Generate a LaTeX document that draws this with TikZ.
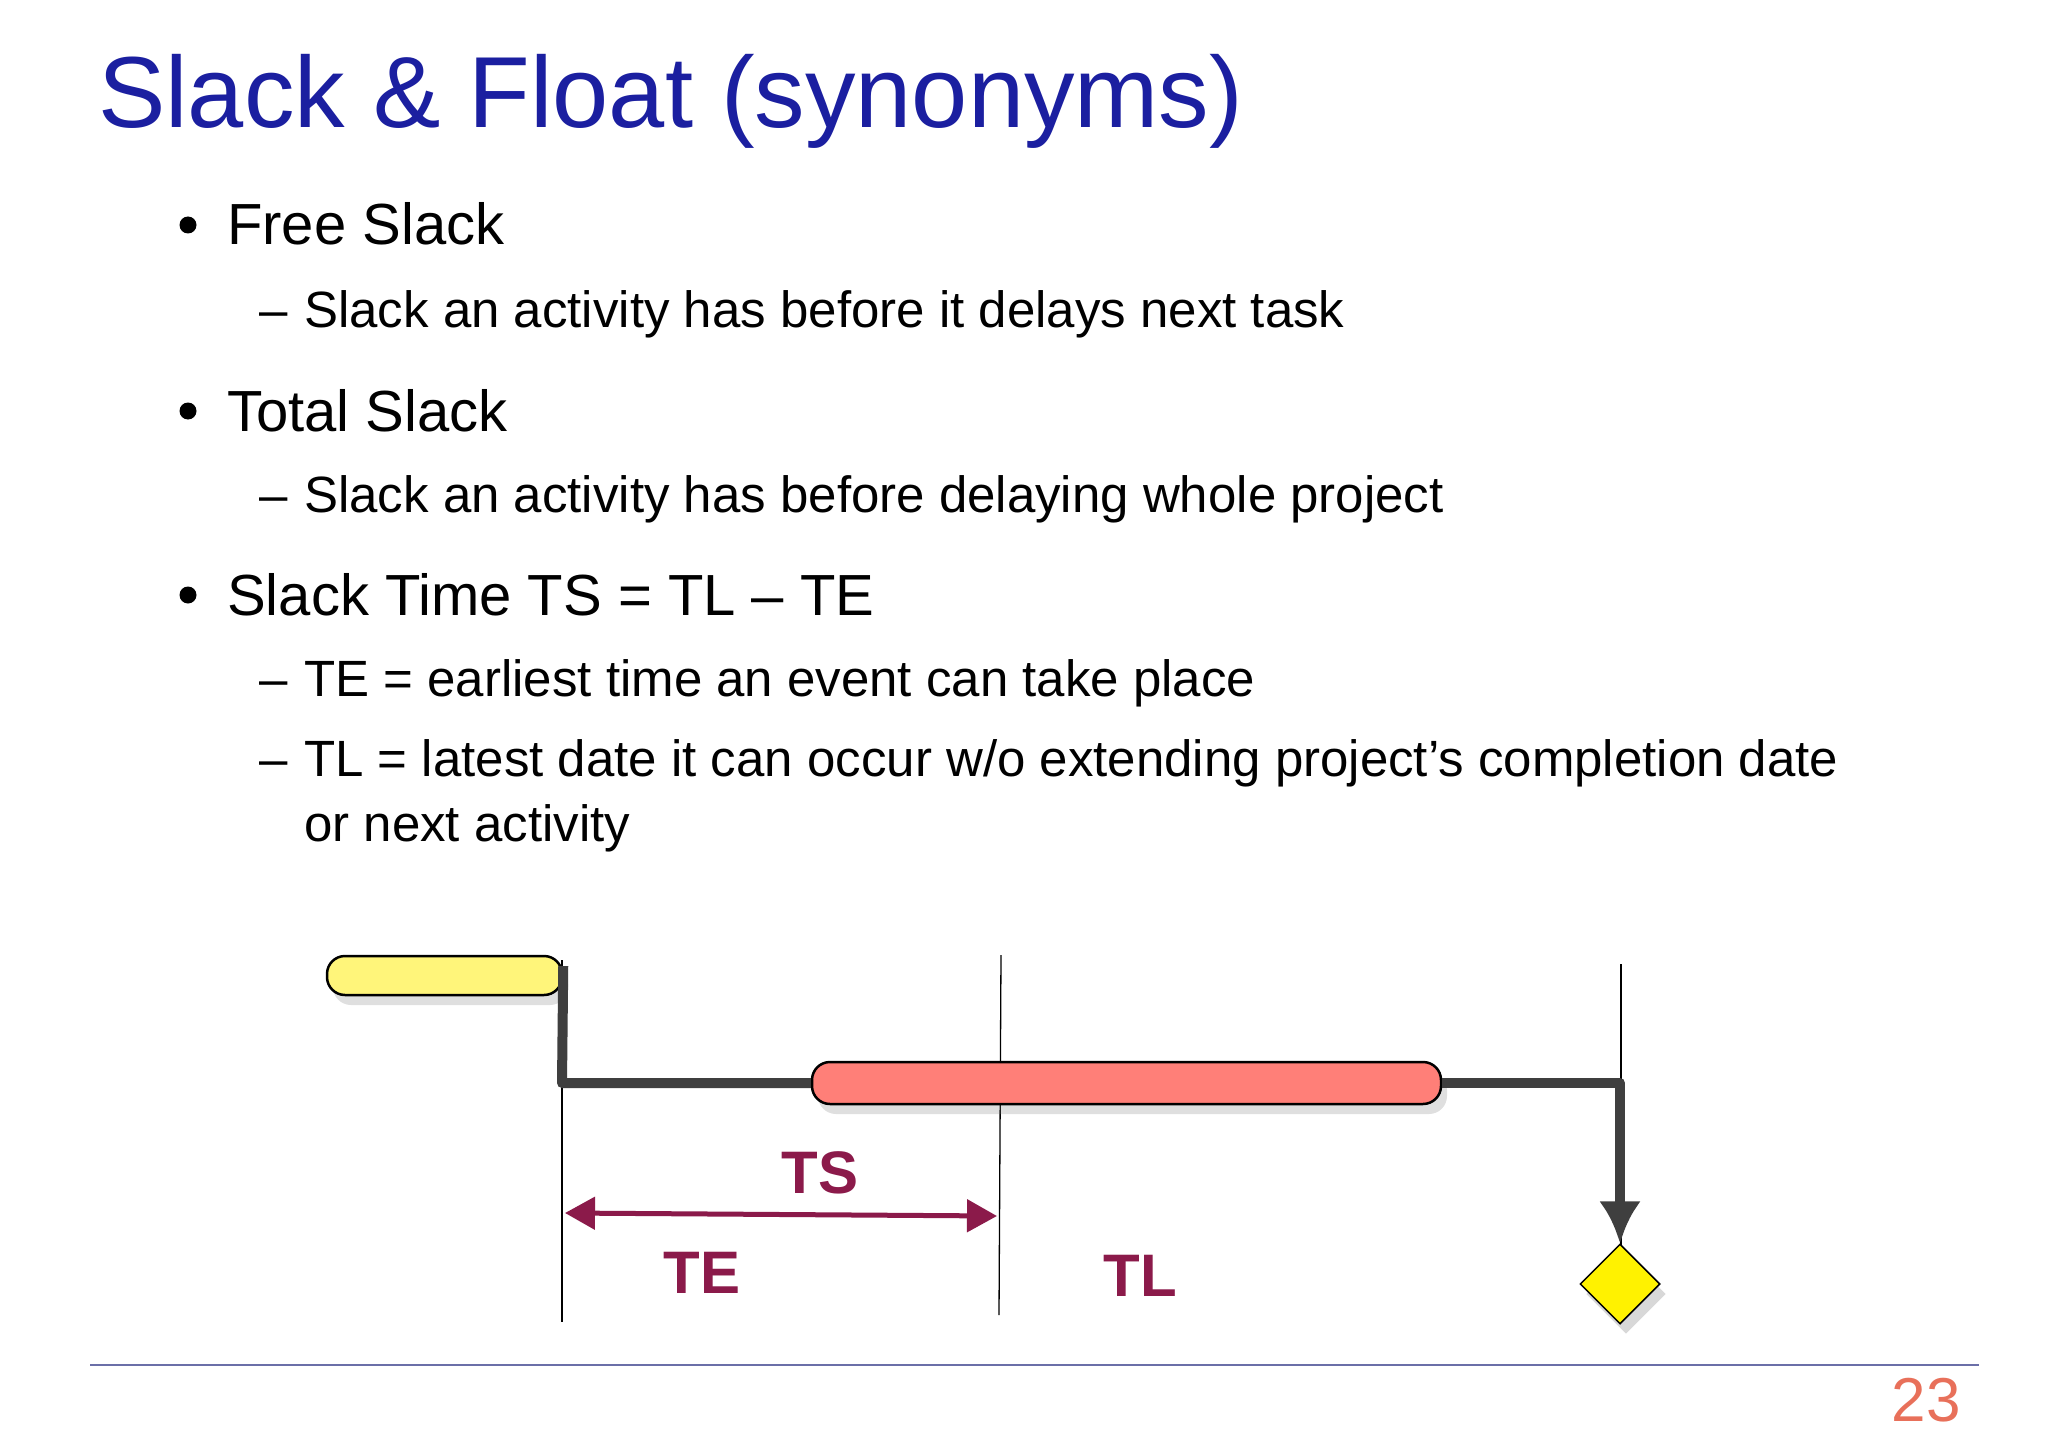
\documentclass[tikz,border=0pt]{standalone}
\usepackage{fontspec}
\setmainfont{Liberation Sans}
\usetikzlibrary{shapes.geometric,shadows,arrows.meta}
\definecolor{titleblue}{HTML}{1B1FA0}
\definecolor{plum}{HTML}{8B1A4A}
\definecolor{barred}{HTML}{FF7F78}
\definecolor{baryel}{HTML}{FFF57A}
\definecolor{rulecol}{HTML}{6B6FA8}
\definecolor{numcol}{HTML}{E8705A}
\definecolor{conn}{HTML}{3F3F3F}
\tikzset{
  txt/.style={anchor=base west,inner sep=0pt},
  big/.style={txt,font=\fontsize{58}{70}\selectfont},
  small/.style={txt,font=\fontsize{51}{60}\selectfont},
  bar/.style={draw=black,line width=2.5pt,rounded corners=18pt,drop shadow={shadow xshift=6pt,shadow yshift=-10pt,opacity=.25}},
  thin/.style={line width=1.3pt},
  lbl/.style={text=plum,font=\fontsize{60}{60}\selectfont\bfseries,inner sep=0pt},
  link/.style={conn,line width=10pt}
}
\begin{document}
\begin{tikzpicture}[x=1pt,y=-1pt]
\useasboundingbox[fill=white] (0,0) rectangle (2048,1447);
\node[txt,text=titleblue,font=\fontsize{101}{101}\selectfont] (title) at (98,128) {Slack \& Float (synonyms)};
\foreach \n/\y/\t in {b1/245/{Free Slack},b2/431/{Total Slack},b3/615/{Slack Time TS = TL – TE}}{
  \node[circle,fill=black,inner sep=0pt,minimum size=17pt] at (188,\y-20) {};
  \node[big] (\n) at (227,\y) {\t};}
\foreach \n/\y/\t in {s1/327/{Slack an activity has before it delays next task},s2/512/{Slack an activity has before delaying whole project},s3/696/{TE = earliest time an event can take place},s4/776/{TL = latest date it can occur w/o extending project’s completion date}}{
  \node[small] at (259,\y) {–};
  \node[small] (\n) at (304,\y) {\t};}
\node[small] (s5) at (304,841) {or next activity};
% diagram
\coordinate (v1t) at (562,960); \coordinate (v1b) at (562,1322);
\coordinate (v2t) at (1001,955); \coordinate (v2b) at (999,1315);
\coordinate (v3t) at (1621,964); \coordinate (v3b) at (1621,1322);
\draw[thin] (v1t)--(v1b); \draw[thin] (v2t)--(v2b); \draw[thin] (v3t)--(v3b);
\node[bar,fill=baryel,minimum width=235pt,minimum height=39pt,inner sep=0pt] (yel) at (444.5,975.5) {};
\node[bar,fill=barred,minimum width=629pt,minimum height=42pt,inner sep=0pt] (red) at (1126.5,1083) {};
\node[diamond,draw=black,line width=1.5pt,fill=yellow,minimum width=80pt,minimum height=80pt,inner sep=0pt,drop shadow={shadow xshift=6pt,shadow yshift=-10pt,opacity=.3}] (dia) at (1620,1284) {};
\draw[link,line join=round] (yel.east|-0,966) -- (562,1083) -- (red.west);
\draw[link,line join=round,-{Latex[length=42pt,width=42pt]}] (red.east) -- (1620,1083) -- (dia.north);
\coordinate (a1) at (565,1213); \coordinate (a2) at (997,1216);
\draw[plum,line width=5pt,{Triangle[length=30pt,width=32pt]}-{Triangle[length=30pt,width=32pt]}] (a1) -- (a2);
\node[lbl] (ts) at (820,1173) {TS};
\node[lbl] (te) at (702,1273) {TE};
\node[lbl] (tl) at (1140,1276) {TL};
\draw[rulecol,line width=1.8pt] (90,1365) -- (1979,1365);
\node[anchor=base east,inner sep=0pt,text=numcol,font=\fontsize{62}{62}\selectfont] (pg) at (1961,1421) {23};
\end{tikzpicture}
\end{document}
